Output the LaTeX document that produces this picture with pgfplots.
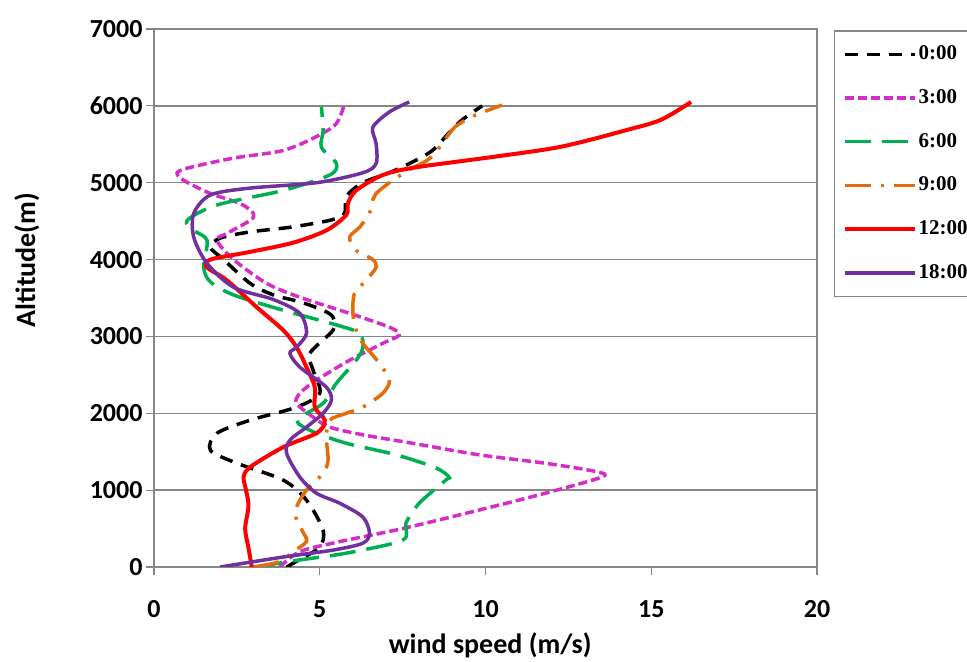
\documentclass[border=0pt]{standalone}
\usepackage{fontspec}
\setmainfont{Carlito}
\newfontfamily\legfont{Liberation Serif}
\usepackage{pgfplots}
\pgfplotsset{compat=1.18}
\definecolor{cMag}{RGB}{214,44,200}
\definecolor{cGreen}{RGB}{0,176,80}
\definecolor{cOrange}{RGB}{228,108,10}
\definecolor{cPurple}{RGB}{112,48,160}
\definecolor{cGrid}{RGB}{134,134,134}
\begin{document}
\begin{tikzpicture}[x=1bp,y=1bp]
\begin{axis}[
  at={(154bp,95bp)}, anchor=south west,
  scale only axis, width=663bp, height=538bp,
  xmin=0, xmax=20, ymin=0, ymax=7000,
  xtick={0,5,10,15,20}, ytick={0,1000,2000,3000,4000,5000,6000,7000},
  ymajorgrids, grid style={cGrid, line width=1.5bp},
  axis line style={cGrid, line width=1.5bp},
  tick style={cGrid, line width=1.2bp},
  tick align=outside, major tick length=8bp,
  xtick pos=left, ytick pos=left,
  /pgf/number format/assume math mode=true,
  scaled y ticks=false,
  yticklabel style={/pgf/number format/1000 sep={}},
  xticklabel style={yshift=-22bp},
  ticklabel style={font=\fontsize{26bp}{30bp}\selectfont\bfseries},
  xlabel={wind speed (m/s)}, ylabel={Altitude(m)},
  label style={font=\fontsize{28bp}{32bp}\selectfont\bfseries},
  xlabel style={at={(axis description cs:0.507,0)}, anchor=base, yshift=-87bp},
  ylabel style={at={(axis description cs:-0.1916,0.5706)}, anchor=center},
  legend style={at={(axis description cs:1.0256,0.998)}, anchor=north west,
    draw=cGrid, line width=1.5bp, fill=white,
    font=\legfont\fontsize{21bp}{25bp}\selectfont\bfseries,
    row sep=20.7bp, inner xsep=8bp, inner ysep=12bp,
    nodes={inner sep=2bp, text height=15bp, text depth=4bp}},
  legend cell align=left,
  legend image code/.code={\draw[#1] (0bp,0bp) -- (70bp,0bp);},
  every axis plot/.append style={no markers, smooth, tension=0.5},
]
\addplot[black, line width=3.5bp, dash pattern=on 13bp off 9bp] coordinates {
(4.0,0) (4.4,100) (5.0,260) (5.1,480) (4.6,870) (3.9,1130) (2.5,1350) (1.7,1520)
(1.9,1740) (2.9,1910) (4.3,2080) (5.0,2260) (4.8,2560) (4.7,2780) (5.4,3080)
(5.4,3250) (5.1,3340) (4.4,3450) (3.6,3540) (2.9,3690) (2.1,4000) (1.7,4160)
(2.0,4280) (2.9,4360) (4.1,4420) (5.3,4510) (5.75,4600) (5.8,4820) (6.3,5000)
(7.1,5130) (7.8,5270) (8.4,5420) (8.9,5650) (9.3,5820) (9.9,6000)};
\addlegendentry{0:00}
\addplot[cMag, line width=3.5bp, dash pattern=on 9bp off 4bp] coordinates {
(3.8,0) (4.4,200) (5.6,330) (7.5,500) (9.8,740) (11.8,960) (13.5,1170)
(13.35,1240) (11.8,1350) (9.8,1460) (7.8,1610) (6.3,1720) (5.3,1820) (4.8,1950)
(4.3,2130) (4.4,2260) (4.9,2430) (5.9,2690) (6.9,2910) (7.4,3020) (7.1,3120)
(5.9,3300) (4.4,3510) (3.4,3690) (2.4,4000) (1.9,4250) (2.2,4340) (2.9,4510)
(3.0,4600) (2.6,4730) (1.7,4860) (0.9,5030) (0.7,5130) (1.1,5200) (2.4,5320)
(3.9,5420) (4.9,5600) (5.5,5770) (5.75,6030)};
\addlegendentry{3:00}
\addplot[cGreen, line width=3.5bp, dash pattern=on 26bp off 11bp] coordinates {
(3.1,0) (4.2,80) (5.8,180) (7.5,350) (7.6,570) (8.0,830) (8.8,1130) (8.9,1170)
(8.5,1290) (7.3,1460) (5.8,1610) (4.8,1760) (4.35,1870) (4.4,1950) (5.1,2130)
(5.5,2390) (6.1,2690) (6.3,2860) (6.2,3040) (5.5,3150) (3.9,3340) (2.4,3540)
(1.7,3710) (1.5,3900) (1.6,4250) (1.2,4380) (1.0,4510) (1.9,4710) (3.9,4900)
(5.3,5100) (5.5,5250) (5.05,5460) (5.1,5680) (5.05,5990)};
\addlegendentry{6:00}
\addplot[cOrange, line width=3.5bp, dash pattern=on 26bp off 10bp on 3bp off 10bp] coordinates {
(3.0,0) (3.8,70) (4.2,200) (4.6,330) (4.5,450) (4.3,610) (4.3,780) (4.6,1000)
(5.1,1220) (5.25,1390) (5.2,1690) (5.3,1910) (5.8,2000) (6.3,2080) (6.9,2260)
(7.1,2430) (6.8,2650) (6.3,2910) (6.1,3080) (6.0,3300) (6.05,3560) (6.4,3730)
(6.7,3900) (6.6,4000) (6.1,4120) (5.9,4290) (6.2,4420) (6.5,4600) (6.6,4780)
(6.7,4860) (7.1,5000) (7.7,5170) (8.2,5280) (8.5,5400) (9.0,5690) (9.3,5790)
(9.7,5880) (10.5,6010)};
\addlegendentry{9:00}
\addplot[red, line width=4bp] coordinates {
(2.95,0) (2.85,250) (2.75,500) (2.85,800) (2.75,1050) (2.7,1170) (2.9,1300)
(3.9,1560) (4.9,1740) (5.15,1870) (5.1,1950) (4.85,2080) (4.85,2340) (4.6,2600)
(4.3,2860) (3.9,3080) (3.1,3380) (2.2,3730) (1.6,3900) (1.7,4000) (2.9,4100)
(4.2,4220) (5.2,4380) (5.8,4580) (5.85,4730) (6.1,4900) (6.9,5100) (7.9,5200)
(10.3,5340) (12.3,5470) (14.3,5690) (15.3,5820) (16.2,6050)};
\addlegendentry{12:00}
\addplot[cPurple, line width=3.5bp] coordinates {
(2.0,0) (3.9,130) (5.4,220) (6.3,310) (6.5,440) (6.3,650) (5.6,830) (4.9,960)
(4.4,1170) (4.0,1480) (4.1,1650) (4.6,1820) (5.1,2000) (5.35,2170) (5.2,2340)
(4.4,2600) (4.1,2780) (4.3,2860) (4.6,3040) (4.4,3300) (3.6,3480) (2.4,3640)
(1.6,3950) (1.2,4290) (1.2,4600) (1.7,4840) (2.9,4930) (4.9,5000) (6.3,5130)
(6.7,5250) (6.7,5510) (6.6,5720) (7.1,5920) (7.7,6050)};
\addlegendentry{18:00}
\end{axis}
\pgfresetboundingbox
\useasboundingbox (0,0) rectangle (967,662);
\end{tikzpicture}
\end{document}
